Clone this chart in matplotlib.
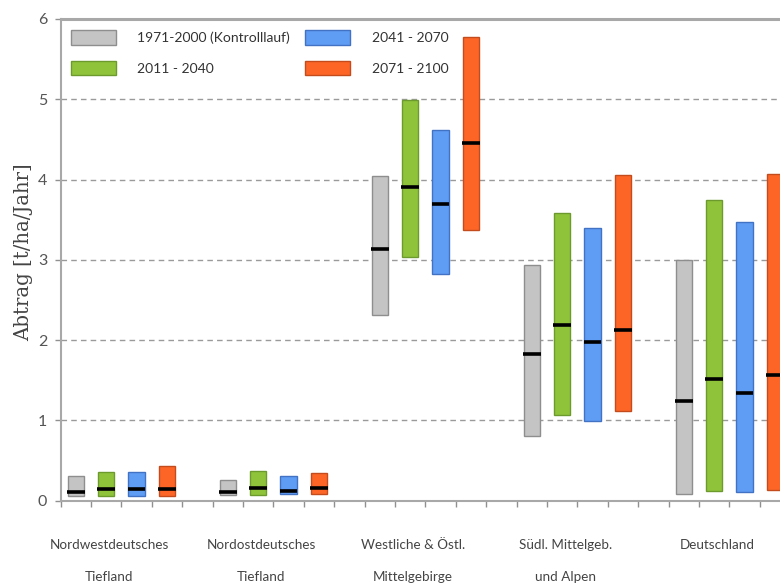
import matplotlib
matplotlib.use('Agg')
import matplotlib.pyplot as plt
from matplotlib.patches import Patch
from matplotlib.transforms import blended_transform_factory

regions_line1 = ["Nordwestdeutsches", "Nordostdeutsches", "Westliche & Östl.", "Südl. Mittelgeb.", "Deutschland"]
regions_line2 = ["Tiefland", "Tiefland", "Mittelgebirge", "und Alpen", ""]
periods = ["1971-2000 (Kontrolllauf)", "2011 - 2040", "2041 - 2070", "2071 - 2100"]

gray_low = [0.05, 0.07, 2.31, 0.80, 0.08]
gray_high = [0.31, 0.26, 4.04, 2.93, 3.00]
gray_med = [0.11, 0.11, 3.13, 1.83, 1.24]
green_low = [0.05, 0.07, 3.03, 1.06, 0.12]
green_high = [0.35, 0.37, 4.99, 3.58, 3.74]
green_med = [0.14, 0.16, 3.91, 2.19, 1.52]
blue_low = [0.05, 0.08, 2.82, 0.99, 0.10]
blue_high = [0.35, 0.30, 4.62, 3.40, 3.47]
blue_med = [0.14, 0.12, 3.70, 1.98, 1.34]
orange_low = [0.05, 0.08, 3.37, 1.11, 0.13]
orange_high = [0.43, 0.34, 5.78, 4.05, 4.07]
orange_med = [0.14, 0.15, 4.45, 2.13, 1.56]

lows = [gray_low, green_low, blue_low, orange_low]
highs = [gray_high, green_high, blue_high, orange_high]
meds = [gray_med, green_med, blue_med, orange_med]

fills = ["#c4c4c4", "#8fc43a", "#5f9cf4", "#fc6526"]
edges = ["#8e8e8e", "#6c9a2c", "#4272c4", "#c44c1c"]

narrow = ['Lato', 'DejaVu Sans']
serif = ['DejaVu Serif']

fig = plt.figure(figsize=(7.8, 5.87), dpi=100)
ax = fig.add_axes([60.5 / 780, 86.5 / 587, 760 / 780, 481.5 / 587])

bw = 0.53
for p in range(4):
    for r in range(5):
        xc = r * 5 + p + 0.5
        lo, hi, md = lows[p][r], highs[p][r], meds[p][r]
        ax.bar(xc, hi - lo, bottom=lo, width=bw, color=fills[p],
               edgecolor=edges[p], linewidth=1.0, zorder=3)
        ax.hlines(md, xc - bw / 2 - 0.03, xc + bw / 2 + 0.03, color='black',
                  linewidth=2.6, zorder=4)

ax.set_xlim(0, 25)
ax.set_ylim(0, 6)
ax.set_xticks(range(0, 26))
ax.set_xticklabels([])
ax.set_yticks(range(0, 7))
ax.set_yticklabels([str(i) for i in range(7)], fontfamily=narrow, fontsize=11.5, color='#555555')
for yv in range(1, 6):
    ax.axhline(yv, color='#9a9a9a', linewidth=1.0, linestyle=(0, (4, 3)), zorder=1)

for s in ['left', 'bottom', 'top', 'right']:
    ax.spines[s].set_color('#a8a8a8')
    ax.spines[s].set_linewidth(1.5)
ax.spines['top'].set_linewidth(2.2)
ax.tick_params(axis='both', direction='out', length=4, color='#909090', width=1)
ax.tick_params(axis='y', pad=5.5)

ax.set_ylabel("Abtrag [t/ha/Jahr]", fontfamily=serif, fontsize=14.2, color='#444444')
ax.yaxis.set_label_coords(-0.036, 0.515)

trans = blended_transform_factory(ax.transData, fig.transFigure)
for r in range(5):
    xc = r * 5 + 1.6
    ax.text(xc, 1 - 545 / 587, regions_line1[r], transform=trans, ha='center', va='center',
            fontfamily=narrow, fontsize=9.7, color='#444444')
    if regions_line2[r]:
        ax.text(xc, 1 - 577 / 587, regions_line2[r], transform=trans, ha='center', va='center',
                fontfamily=narrow, fontsize=9.7, color='#444444')

handles = [Patch(facecolor=fills[p], edgecolor=edges[p], linewidth=1.0) for p in range(4)]
leg = ax.legend(handles, periods, ncol=2, loc='upper left', bbox_to_anchor=(10 / 760, 1 - 11 / 481.5),
                frameon=False, prop={'family': narrow, 'size': 10}, handlelength=3.25,
                handleheight=1.25, handletextpad=1.55, columnspacing=1.1, labelspacing=1.15,
                borderpad=0, borderaxespad=0)
for t in leg.get_texts():
    t.set_color('#333333')

fig.savefig('out.png', dpi=100)
